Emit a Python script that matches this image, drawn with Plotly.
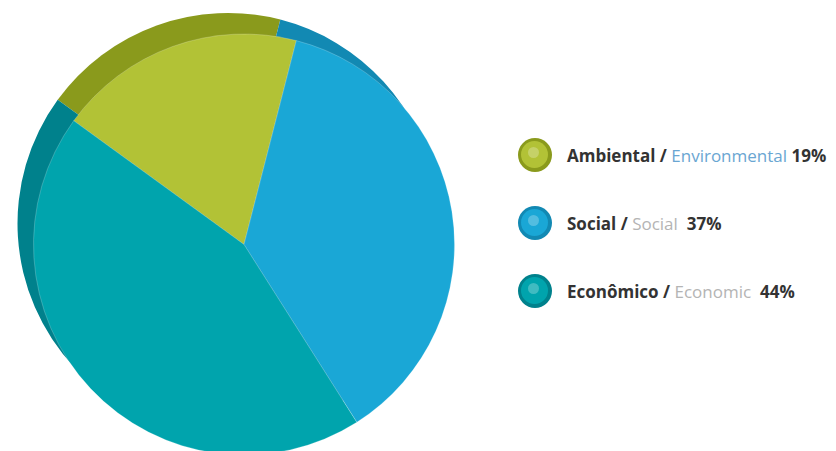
import plotly.graph_objects as go

categories = ["Ambiental", "Social", "Econômico"]
categories_en = ["Environmental", "Social", "Economic"]
values = [19, 37, 44]

face_colors = ["#b2c236", "#1aa7d6", "#00a4ad"]
edge_colors = ["#8a9a1c", "#1289b3", "#00818c"]
en_colors = ["#6aa6d2", "#b4b4b4", "#b4b4b4"]

W, H = 836, 451

def px_dom(x0, x1, ytop, ybot):
    return dict(x=[x0 / W, x1 / W], y=[1 - ybot / H, 1 - ytop / H])

fig = go.Figure()
# back (3D edge) pie, offset up-left
fig.add_trace(go.Pie(
    labels=categories, values=values, sort=False, direction="clockwise",
    rotation=-54, marker=dict(colors=edge_colors, line=dict(width=0)),
    textinfo="none", hoverinfo="skip", showlegend=False,
    domain=px_dom(8, 432, 5, 426),
))
# front face pie
fig.add_trace(go.Pie(
    labels=categories, values=values, sort=False, direction="clockwise",
    rotation=-54, marker=dict(colors=face_colors, line=dict(width=0.6, color="rgba(255,255,255,0.35)")),
    textinfo="none", showlegend=False,
    domain=px_dom(24, 448, 26, 447),
))

shapes = []
annotations = []
ys = [147, 215, 283]
cx = 527
r = 17
for i in range(3):
    cy = ys[i]
    shapes.append(dict(type="circle", xref="paper", yref="paper",
                       x0=(cx - r) / W, x1=(cx + r) / W, y0=1 - (cy + r) / H, y1=1 - (cy - r) / H,
                       fillcolor=edge_colors[i], line=dict(width=0)))
    shapes.append(dict(type="circle", xref="paper", yref="paper",
                       x0=(cx - r + 3) / W, x1=(cx + r - 4) / W, y0=1 - (cy + r - 4) / H, y1=1 - (cy - r + 3) / H,
                       fillcolor=face_colors[i], line=dict(width=0)))
    shapes.append(dict(type="circle", xref="paper", yref="paper",
                       x0=(cx - 7) / W, x1=(cx + 4) / W, y0=1 - (cy + 3) / H, y1=1 - (cy - 8) / H,
                       fillcolor="rgba(255,255,255,0.25)", line=dict(width=0)))
    gap = " " if i == 0 else "  "
    text = (f"<b><span style='color:#333333'>{categories[i]} / </span></b>"
            f"<span style='color:{en_colors[i]}'>{categories_en[i]}</span>"
            f"<b><span style='color:#333333'>{gap}{values[i]}%</span></b>")
    annotations.append(dict(x=557 / W, y=1 - cy / H, xref="paper", yref="paper",
                            xanchor="left", yanchor="middle", showarrow=False,
                            text=text, font=dict(family="Open Sans", size=17, color="#333333")))

fig.update_layout(
    width=W, height=H, margin=dict(l=0, r=0, t=0, b=0),
    paper_bgcolor="white", plot_bgcolor="white",
    shapes=shapes, annotations=annotations, showlegend=False,
)
fig.write_html("out.html")
